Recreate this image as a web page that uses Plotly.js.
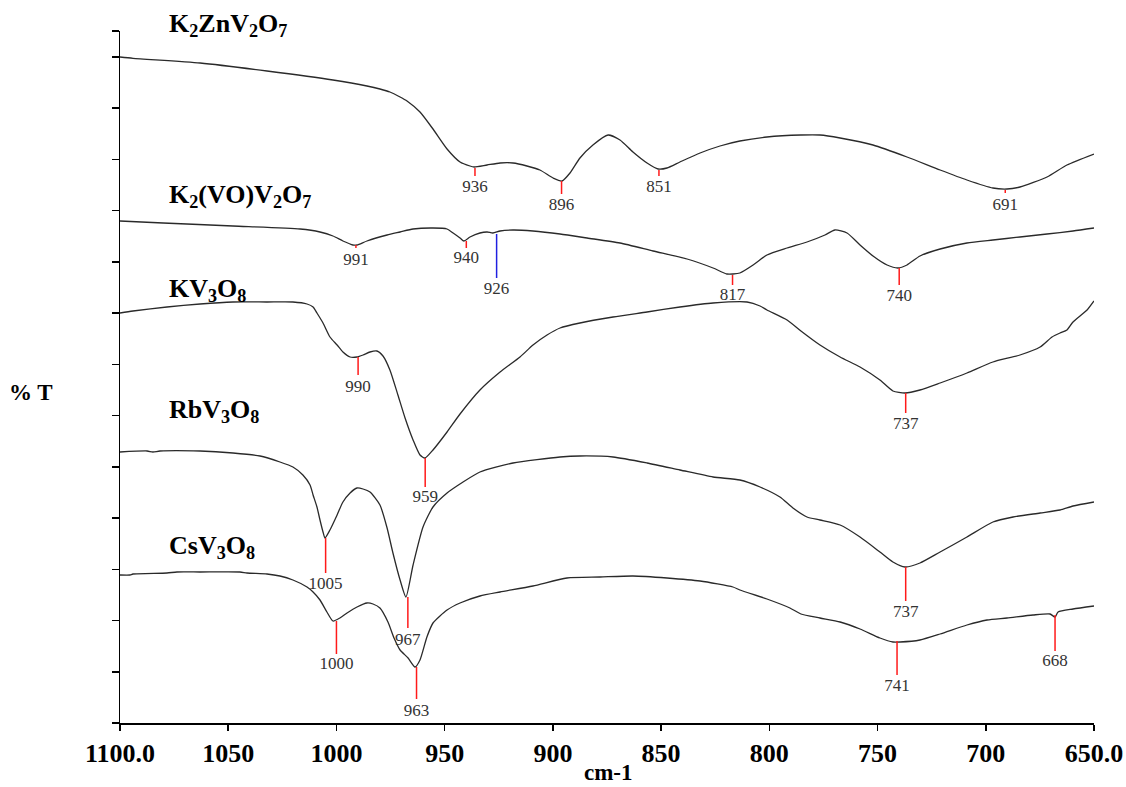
<!DOCTYPE html>
<html>
<head>
<meta charset="utf-8">
<script src="https://cdn.plot.ly/plotly-3.0.1.min.js"></script>
<style>html,body{margin:0;padding:0;background:#fff;}#chart{width:1126px;height:787px;}</style>
</head>
<body>
<div id="chart"></div>
<script>
// ---- data (wavenumber in cm-1, offset %T in arbitrary units) ----
const xTickVals = [1100, 1050, 1000, 950, 900, 850, 800, 750, 700, 650];
const xTickText = ["1100.0", "1050", "1000", "950", "900", "850", "800", "750", "700", "650.0"];

const names = ["K<sub>2</sub>ZnV<sub>2</sub>O<sub>7</sub>", "K<sub>2</sub>(VO)V<sub>2</sub>O<sub>7</sub>",
               "KV<sub>3</sub>O<sub>8</sub>", "RbV<sub>3</sub>O<sub>8</sub>", "CsV<sub>3</sub>O<sub>8</sub>"];
const nameY = [698, 527, 433, 312, 176];

// K2ZnV2O7
const wn1 = [1100,1094,1063,1032.1,1001.6,985.9,979.9,975.3,970.6,967.4,961.4,955.4,948.9,942.9,938.3,936.4,930.4,924.4,918.4,912,906,899.9,895.8,892.1,887.5,881.5,874.5,869,863,856.5,851.4,847.3,841.3,832,822.8,813.6,801.1,785.4,776.6,767.3,752.1,736.4,721.1,708.7,696.7,690.2,684.2,671.7,662.5,650];
const t1  = [666,664.7,660,652,643,637,634,631,626,622,611,594,574,561,557,556,558,560,560,557,553,545,542,550,565,578,588,583,571,560,554,555,561,570,577,582,586,588,588,585,578,566,553,543,535,534,536,546,558,569];
// K2(VO)V2O7
const wn2 = [1100,1080.1,1047.8,1016.8,1007.6,1001.6,997,992.4,990.5,985.9,976.6,970.6,964.6,955.4,948.9,946.1,942.9,941.1,938.3,933.7,930.4,927.7,924.4,918.4,909.2,896.7,884.2,869,853.7,838,826,819.6,816.8,813.6,807.5,801.1,791.8,782.6,774.3,769.7,764.1,758.1,752.1,745.6,740.6,736.4,730.4,721.1,708.7,696.7,684.2,671.7,659.7,650];
const t2  = [502,500,497,494,491,487,482,478,478,482,488,491,494,495,494,490,485,482,486,490,491,490,492,493,492,489,485,480,472,464,455,449,449,450,458,468,475,481,488,493,490,478,467,458,455,458,467,474,480,483,486,489,492,495];
// KV3O8
const wn3 = [1100,1094,1078.3,1063,1047.8,1032.1,1020.1,1013.6,1010.8,1009,1006.2,1003,999.7,997,993.7,990.5,987.7,984.5,981.3,978.5,975.3,971.6,968.3,964.6,961.4,959.1,955.4,948.9,942.9,933.7,924.4,915.2,909.2,902.7,896.7,887.5,872.2,856.5,841.3,826,810.3,804.3,801.1,791.8,785.4,776.6,767.3,758.1,748.9,742.9,737.3,730.4,721.1,708.7,696.7,684.2,674.9,669.4,665.7,662.5,659.7,653.2,650];
const t3  = [410,412,416,419,421,421,421,419,416,410,400,386,378,371,366,366,368,371,372,367,353,328,305,283,268,265,273,291,309,333,351,366,378,388,395,400,406,411,416,420,421,417,413,403,392,378,366,356,343,332,330,333,340,350,361,368,376,386,390,393,401,413,422];
// RbV3O8
const wn4 = [1100,1087.5,1084.8,1081.5,1063,1047.8,1035.3,1026.1,1020.1,1015.5,1012.2,1010.8,1009,1007.6,1006.2,1005.3,1003,999.7,997,993.7,990.5,987.7,984.5,979.9,976.6,973.9,970.6,967.9,964.6,960,955.4,948.9,941.5,933.7,918.4,896.7,887.5,872.2,856.5,841.3,826,813.6,804.3,795.1,789.1,782.6,776.6,767.3,758.1,748.9,742.9,737.3,730.4,721.1,708.7,696.7,687.4,674.9,665.7,659.7,650];
const t4  = [271,272,271,272,272,270,267,261,256,248,238,228,216,203,191,185,193,208,221,230,235,234,231,218,195,170,143,126,158,196,216,230,241,251,260,266,267,266,260,253,246,243,236,226,215,206,203,198,186,171,161,156,160,171,186,201,206,210,213,217,221];
// CsV3O8
const wn5 = [1100,1095.4,1094,1078.3,1073.7,1063,1044.6,1041.3,1032.1,1026.1,1020.1,1013.6,1010.8,1007.6,1004.4,1001.6,998.4,995.1,990.5,985.9,983.1,979.9,976.2,973.4,970.6,966.9,963.7,961.4,958.2,955.4,948.9,942.9,933.7,924.4,909.2,893.5,878.2,863,847.3,832,816.8,813.6,801.1,790.5,785.4,776.6,767.3,758.1,748.9,742.9,739.6,730.4,721.1,708.7,699.4,690.2,678.2,670.3,668,666.6,659.7,650];
const t5  = [148,148,149,150,151,151,151,150,149,147,143,136,131,123,111,102,105,110,116,120,119,115,101,85,73,65,56,63,86,100,113,120,127,131,137,145,146,147,145,142,136,133,124,115,109,105,101,94,85,81,81,83,89,98,103,105,108,109,106,111,114,117];

// peak marks: wavenumber, line top, line bottom, label height
const p1Wn = [936, 896, 851, 691], p1Top = [555, 542, 553, 533], p1Bot = [547, 529, 547, 530], p1Lab = [535, 517, 535, 517];
const p2Wn = [991, 940, 817, 740], p2Top = [478, 482, 448, 455], p2Bot = [475, 475, 438, 438], p2Lab = [462, 464, 427, 426];
const p2bWn = [926], p2bTop = [489], p2bBot = [445], p2bLab = [433];
const p3Wn = [990, 959, 737], p3Top = [366, 265, 330], p3Bot = [348, 236, 310], p3Lab = [335, 225, 298];
const p4Wn = [1005, 967, 737], p4Top = [185, 126, 156], p4Bot = [150, 95, 122], p4Lab = [138, 82, 110];
const p5Wn = [1000, 963, 741, 668], p5Top = [102, 56, 82, 108], p5Bot = [69, 24, 48, 72], p5Lab = [58, 11, 36, 61];

// ---- build ----
const serif = "Liberation Serif, Times New Roman, serif";
const yMax = 692;
const traces = [];
[[wn1,t1],[wn2,t2],[wn3,t3],[wn4,t4],[wn5,t5]].forEach(([x,y]) => {
  traces.push({x:x, y:y, mode:'lines', line:{color:'#2a2a2a', width:1.3, shape:'spline', smoothing:0.6},
               hoverinfo:'skip', showlegend:false});
});
function peaks(wn, top, bot, lab, color) {
  const xs = [], ys = [];
  wn.forEach((w,i) => { xs.push(w, w, null); ys.push(top[i], bot[i], null); });
  traces.push({x:xs, y:ys, mode:'lines', line:{color:color, width:1.5}, hoverinfo:'skip', showlegend:false});
  traces.push({x:wn, y:lab, mode:'text', text:wn.map(String), textposition:'middle center',
               textfont:{family:serif, size:17, color:'#333'}, hoverinfo:'skip', showlegend:false, cliponaxis:false});
}
peaks(p1Wn,p1Top,p1Bot,p1Lab,'#ff1a1a');
peaks(p2Wn,p2Top,p2Bot,p2Lab,'#ff1a1a');
peaks(p2bWn,p2bTop,p2bBot,p2bLab,'#2020e0');
peaks(p3Wn,p3Top,p3Bot,p3Lab,'#ff1a1a');
peaks(p4Wn,p4Top,p4Bot,p4Lab,'#ff1a1a');
peaks(p5Wn,p5Top,p5Bot,p5Lab,'#ff1a1a');

const yTicks = [];
for (let k = 0; k <= 13; k++) yTicks.push(k * 51.23);
yTicks.push(yMax);

const annotations = names.map((n,i) => ({
  x: 1078.5, y: nameY[i] / yMax, xref:'x', yref:'paper', xanchor:'left', yanchor:'middle', showarrow:false,
  text: n, font:{family:serif, size:26, color:'#000', weight:'bold'}
}));
annotations.push({x:-0.0914, y:0.478, xref:'paper', yref:'paper', xanchor:'center', yanchor:'middle',
  showarrow:false, text:'% T', font:{family:serif, size:23, color:'#000', weight:'bold'}});
annotations.push({x:0.502, y:-0.071, xref:'paper', yref:'paper', xanchor:'center', yanchor:'middle',
  showarrow:false, text:'cm-1', font:{family:serif, size:23, color:'#000', weight:'bold'}});

const layout = {
  width:1126, height:787,
  margin:{l:120, r:32, t:31, b:64},
  paper_bgcolor:'#fff', plot_bgcolor:'#fff',
  showlegend:false,
  xaxis:{range:[1100,650], tickmode:'array', tickvals:xTickVals, ticktext:xTickText,
         showgrid:false, zeroline:false, showline:true, linecolor:'#000', linewidth:1.5,
         ticks:'outside', ticklen:6, tickwidth:1.5, tickcolor:'#000',
         tickfont:{family:serif, size:26, color:'#000', weight:'bold'}},
  yaxis:{range:[0,yMax], tickmode:'array', tickvals:yTicks, showticklabels:false,
         showgrid:false, zeroline:false, showline:true, linecolor:'#000', linewidth:1.5,
         ticks:'outside', ticklen:7, tickwidth:1.5, tickcolor:'#000'},
  annotations: annotations
};
Plotly.newPlot('chart', traces, layout, {staticPlot:true, displayModeBar:false});
</script>
</body>
</html>
